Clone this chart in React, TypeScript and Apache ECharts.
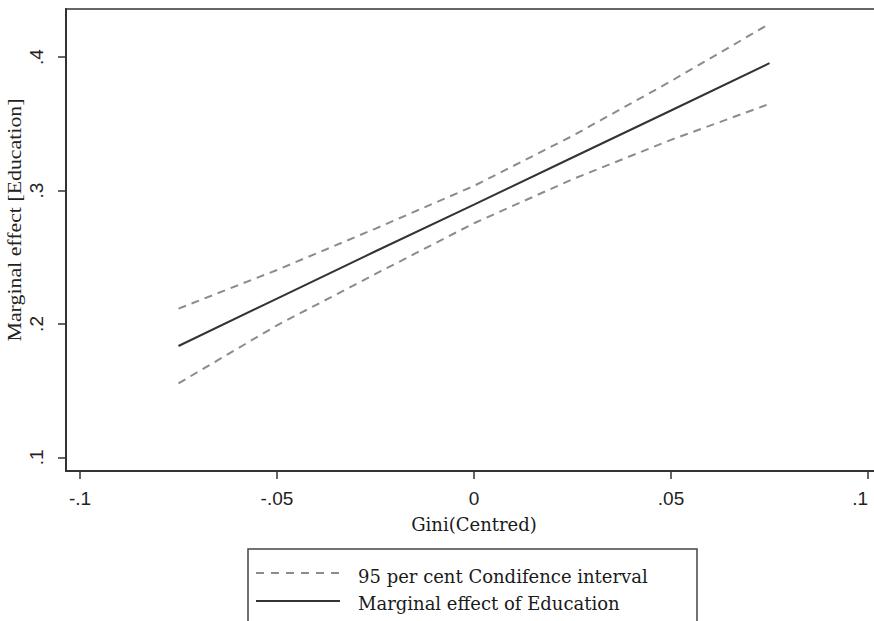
import React, { useEffect, useRef } from "react";
import * as echarts from "echarts";

// Gini (centred) evaluation points
const X_VALUES = [-0.075, -0.05, -0.025, 0, 0.025, 0.05, 0.075];
// Marginal effect of education
const MARGINAL = [0.1835, 0.219, 0.2545, 0.2895, 0.3248, 0.36, 0.3955];
// 95% confidence interval bounds
const CI_UPPER = [0.2115, 0.2405, 0.2715, 0.3035, 0.341, 0.382, 0.425];
const CI_LOWER = [0.1555, 0.199, 0.2375, 0.2755, 0.3085, 0.338, 0.365];
// Tick values
const X_TICKS = [-0.1, -0.05, 0, 0.05, 0.1];
const Y_TICKS = [0.1, 0.2, 0.3, 0.4];

const LEGEND_CI = "95 per cent Condifence interval";
const LEGEND_ME = "Marginal effect of Education";
const X_TITLE = "Gini(Centred)";
const Y_TITLE = "Marginal effect [Education]";

const fmt = (v: number) => {
  if (Math.abs(v) < 1e-12) return "0";
  const s = String(Math.abs(+v.toFixed(4))).replace(/^0/, "");
  return (v < 0 ? "-" : "") + s;
};

const pairs = (ys: number[]) => X_VALUES.map((x, i) => [x, ys[i]]);

export default function App() {
  const ref = useRef<HTMLDivElement>(null);
  useEffect(() => {
    if (!ref.current) return;
    const chart = echarts.init(ref.current, undefined, { renderer: "svg" });
    const tickFont = { fontFamily: '"Liberation Sans", Arial, sans-serif', fontSize: 19, color: "#222" };
    chart.setOption({
      animation: false,
      backgroundColor: "#ffffff",
      grid: {
        left: 66,
        top: 9,
        right: -8,
        bottom: 150,
        show: true,
        borderColor: "#666",
        borderWidth: 2,
        backgroundColor: "#ffffff",
        containLabel: false,
        outerBoundsMode: "none",
      },
      xAxis: {
        type: "value",
        min: -0.10355,
        max: 0.10355,
        name: X_TITLE,
        nameLocation: "middle",
        nameGap: 44,
        nameTextStyle: { fontFamily: '"DejaVu Serif", serif', fontSize: 18, color: "#1a1a1a" },
        axisLine: { show: true, onZero: false, lineStyle: { color: "#333", width: 2 } },
        axisTick: { show: true, length: 8, customValues: X_TICKS, lineStyle: { color: "#333", width: 1.5 } },
        axisLabel: {
          ...tickFont,
          margin: 18,
          alignMaxLabel: "right",
          customValues: X_TICKS,
          formatter: (v: number) => fmt(v),
        },
        splitLine: { show: false },
      },
      yAxis: {
        type: "value",
        min: 0.0898,
        max: 0.4361,
        axisLine: { show: true, onZero: false, lineStyle: { color: "#333", width: 2 } },
        axisTick: { show: true, length: 8, customValues: Y_TICKS, lineStyle: { color: "#333", width: 1.5 } },
        axisLabel: { ...tickFont, rotate: 90, margin: 20, customValues: Y_TICKS, formatter: (v: number) => fmt(v) },
        splitLine: { show: false },
      },
      series: [
        {
          name: LEGEND_CI,
          type: "line",
          data: pairs(CI_UPPER),
          symbol: "none",
          lineStyle: { color: "#8c8c8c", width: 2, type: [8, 6] },
        },
        {
          name: LEGEND_CI,
          type: "line",
          data: pairs(CI_LOWER),
          symbol: "none",
          lineStyle: { color: "#8c8c8c", width: 2, type: [8, 6] },
        },
        {
          name: LEGEND_ME,
          type: "line",
          data: pairs(MARGINAL),
          symbol: "none",
          lineStyle: { color: "#333", width: 2 },
        },
      ],
      graphic: [
        {
          type: "text",
          x: 15,
          y: 220,
          rotation: Math.PI / 2,
          scaleX: 1.15,
          style: {
            text: Y_TITLE,
            font: '19px "Liberation Serif", serif',
            fill: "#222",
            align: "center",
            verticalAlign: "middle",
            textAlign: "center",
            textVerticalAlign: "middle",
          },
        },
        {
          type: "rect",
          shape: { x: 248, y: 549, width: 449, height: 120 },
          style: { fill: "#fff", stroke: "#444", lineWidth: 1.5 },
        },
        {
          type: "line",
          shape: { x1: 256, y1: 573, x2: 340, y2: 573 },
          style: { stroke: "#8c8c8c", lineWidth: 2, lineDash: [8, 7] },
        },
        {
          type: "line",
          shape: { x1: 256, y1: 601, x2: 340, y2: 601 },
          style: { stroke: "#333", lineWidth: 2 },
        },
        {
          type: "text",
          x: 358,
          y: 576,
          style: {
            text: LEGEND_CI,
            font: '18px "DejaVu Serif", serif',
            fill: "#1a1a1a",
            verticalAlign: "middle",
            textVerticalAlign: "middle",
          },
        },
        {
          type: "text",
          x: 358,
          y: 603,
          style: {
            text: LEGEND_ME,
            font: '18px "DejaVu Serif", serif',
            fill: "#1a1a1a",
            verticalAlign: "middle",
            textVerticalAlign: "middle",
          },
        },
      ],
    });
    return () => chart.dispose();
  }, []);
  return (
    <div
      ref={ref}
      style={{ position: "fixed", left: 0, top: 0, width: 874, height: 621, background: "#fff" }}
    />
  );
}
